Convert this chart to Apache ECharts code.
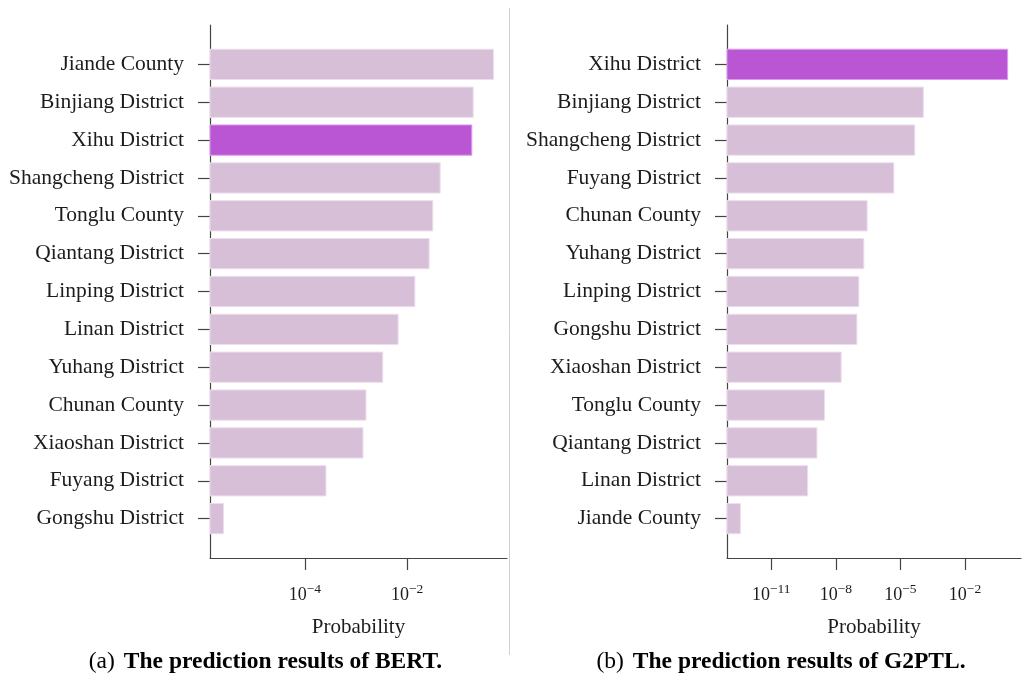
<!DOCTYPE html>
<html>
<head>
<meta charset="utf-8">
<script src="https://cdn.jsdelivr.net/npm/echarts@6/dist/echarts.min.js"></script>
<style>
  html, body { margin: 0; padding: 0; background: #ffffff; }
  #chart { width: 1025px; height: 675px; }
</style>
</head>
<body>
<div id="chart"></div>
<script>
// Predicted probability of each district, sorted from most to least likely
const bertDistricts = [
  'Jiande County', 'Binjiang District', 'Xihu District', 'Shangcheng District',
  'Tonglu County', 'Qiantang District', 'Linping District', 'Linan District',
  'Yuhang District', 'Chunan County', 'Xiaoshan District', 'Fuyang District',
  'Gongshu District'
];
const bertProbs = [
  0.492, 0.197, 0.185, 0.0444,
  0.0319, 0.0270, 0.0142, 0.00667,
  0.00334, 0.00157, 0.00137, 0.000258,
  0.00000255
];

const g2ptlDistricts = [
  'Xihu District', 'Binjiang District', 'Shangcheng District', 'Fuyang District',
  'Chunan County', 'Yuhang District', 'Linping District', 'Gongshu District',
  'Xiaoshan District', 'Tonglu County', 'Qiantang District', 'Linan District',
  'Jiande County'
];
const g2ptlProbs = [
  0.96, 1.16e-4, 4.65e-5, 4.93e-6,
  2.85e-7, 2.0e-7, 1.17e-7, 9.5e-8,
  1.77e-8, 2.98e-9, 1.32e-9, 4.86e-10,
  3.66e-13
];

// Exponents shown as 10^x tick labels on each probability axis
const bertTickExps = [-4, -2];
const g2ptlTickExps = [-11, -8, -5, -2];

// The correct answer, drawn in a stronger colour
const targetDistrict = 'Xihu District';

const captionA = ['(a)', 'The prediction results of BERT.'];
const captionB = ['(b)', 'The prediction results of G2PTL.'];

const LABEL_FONT = 'Liberation Serif';
const TEXT_COLOR = '#1c1c1c';
const AXIS_COLOR = '#444444';
const BAR_COLOR = '#d8bfd8';
const BAR_EDGE = '#ecdeec';
const HIGHLIGHT_COLOR = '#ba55d3';
const HIGHLIGHT_EDGE = '#da9ee8';
const BAR_HEIGHT = 0.8;

// Log-scale limits padded by 5% of the data span on each side
function logLimits(probs) {
  const logs = probs.map(p => Math.log10(p));
  const lo = Math.min(...logs);
  const hi = Math.max(...logs);
  const pad = 0.05 * (hi - lo);
  return [lo - pad, hi + pad];
}

function categoryLimits(n) {
  const lo = -BAR_HEIGHT / 2;
  const hi = n - 1 + BAR_HEIGHT / 2;
  const pad = 0.05 * (hi - lo);
  return [lo - pad, hi + pad];
}

function expLabel(v) {
  const e = Math.round(v);
  return '{b|10}{s|' + (e < 0 ? '\u2212' : '') + Math.abs(e) + '}';
}

function buildPanel(idx, names, probs, tickExps, grid) {
  const [xMin, xMax] = logLimits(probs);
  const [yMin, yMax] = categoryLimits(names.length);
  const indices = names.map((_, i) => i);

  const xAxis = {
    type: 'value',
    gridIndex: idx,
    position: 'bottom',
    min: xMin,
    max: xMax,
    name: 'Probability',
    nameLocation: 'middle',
    nameGap: 59,
    nameTextStyle: { fontFamily: LABEL_FONT, fontSize: 21, color: TEXT_COLOR },
    axisLine: { show: true, onZero: false, lineStyle: { color: AXIS_COLOR, width: 1.2 } },
    axisTick: {
      show: true, customValues: tickExps, length: 12,
      lineStyle: { color: AXIS_COLOR, width: 1.2 }
    },
    axisLabel: {
      customValues: tickExps,
      margin: 24,
      formatter: expLabel,
      rich: {
        b: { fontFamily: LABEL_FONT, fontSize: 18, color: TEXT_COLOR, lineHeight: 22, verticalAlign: 'bottom' },
        s: { fontFamily: LABEL_FONT, fontSize: 13.5, color: TEXT_COLOR, lineHeight: 13, verticalAlign: 'top' }
      }
    },
    splitLine: { show: false }
  };

  const yAxis = {
    type: 'value',
    gridIndex: idx,
    position: 'left',
    inverse: true,
    min: yMin,
    max: yMax,
    axisLine: { show: true, onZero: false, lineStyle: { color: AXIS_COLOR, width: 1.2 } },
    axisTick: {
      show: true, customValues: indices, length: 12,
      lineStyle: { color: AXIS_COLOR, width: 1.2 }
    },
    axisLabel: {
      customValues: indices,
      margin: 26,
      padding: [4, 0, 0, 0],
      fontFamily: LABEL_FONT,
      fontSize: 21.5,
      color: TEXT_COLOR,
      formatter: v => names[Math.round(v)]
    },
    splitLine: { show: false }
  };

  const series = {
    type: 'custom',
    xAxisIndex: idx,
    yAxisIndex: idx,
    encode: { x: 0, y: 1 },
    data: probs.map((p, i) => [Math.log10(p), i]),
    renderItem: function (params, api) {
      const v = api.value(0);
      const i = api.value(1);
      const start = api.coord([xMin, i]);
      const end = api.coord([v, i]);
      const h = api.size([0, BAR_HEIGHT])[1];
      const isTarget = names[params.dataIndex] === targetDistrict;
      return {
        type: 'rect',
        shape: { x: start[0], y: start[1] - h / 2, width: end[0] - start[0], height: h },
        style: {
          fill: isTarget ? HIGHLIGHT_COLOR : BAR_COLOR,
          stroke: isTarget ? HIGHLIGHT_EDGE : BAR_EDGE,
          lineWidth: 1
        }
      };
    }
  };

  return { grid, xAxis, yAxis, series };
}

const left = buildPanel(0, bertDistricts, bertProbs, bertTickExps,
  { left: 210, top: 25, width: 297, height: 533 });
const right = buildPanel(1, g2ptlDistricts, g2ptlProbs, g2ptlTickExps,
  { left: 727, top: 25, width: 294, height: 533 });

function caption(parts, x) {
  return {
    type: 'text',
    x: x,
    y: 662,
    style: {
      text: '{r|' + parts[0] + '}{g|}{b|' + parts[1] + '}',
      align: 'center',
      verticalAlign: 'middle',
      rich: {
        r: { fontFamily: LABEL_FONT, fontSize: 23.5, fill: '#000000' },
        g: { width: 9 },
        b: { fontFamily: LABEL_FONT, fontSize: 23.5, fontWeight: 'bold', fill: '#000000' }
      }
    }
  };
}

const chart = echarts.init(document.getElementById('chart'), null, { renderer: 'canvas' });
chart.setOption({
  backgroundColor: '#ffffff',
  animation: false,
  grid: [left.grid, right.grid],
  xAxis: [left.xAxis, right.xAxis],
  yAxis: [left.yAxis, right.yAxis],
  series: [left.series, right.series],
  graphic: [
    {
      type: 'line',
      shape: { x1: 509.5, y1: 8, x2: 509.5, y2: 655 },
      style: { stroke: '#d0d0d0', lineWidth: 1 }
    },
    caption(captionA, 265.5),
    caption(captionB, 781)
  ]
});
</script>
</body>
</html>
